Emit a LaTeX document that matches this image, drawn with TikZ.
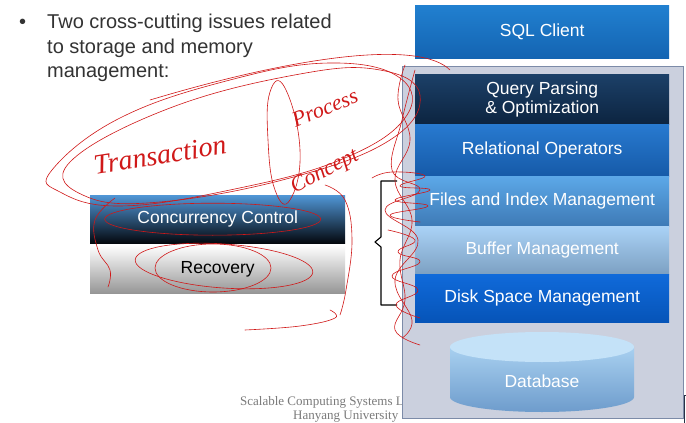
\documentclass[tikz,border=0pt]{standalone}
\usepackage{fontspec}
\setmainfont{Liberation Sans}
\newfontfamily\footfont{Liberation Serif}
\usetikzlibrary{shapes.geometric}
\definecolor{bodytext}{HTML}{333333}
\definecolor{footgray}{HTML}{7A7A7A}
\definecolor{inkred}{HTML}{D01818}
\definecolor{stackfill}{HTML}{CBD0DE}
\definecolor{stackedge}{HTML}{7C8BA8}
\begin{document}
\begin{tikzpicture}[x=1pt,y=-1pt,
  layer/.style={draw=none, minimum width=254pt, inner sep=0pt, text=white,
    font=\fontsize{17.5}{21}\selectfont, align=center, anchor=north west},
  sidebox/.style={draw=none, minimum width=255pt, minimum height=48pt, inner sep=0pt,
    font=\fontsize{17.5}{21}\selectfont, anchor=north west},
  ink/.style={draw=inkred, line width=0.6pt, line cap=round, line join=round},
  hand/.style={text=inkred, inner sep=0pt, font=\footfont\itshape\fontsize{22}{22}\selectfont},
  bul/.style={anchor=base west, text=bodytext, font=\fontsize{20}{24}\selectfont, inner sep=0pt}
]
\useasboundingbox (0,0) rectangle (686,423);
\fill[white] (0,0) rectangle (686,423);

% bullet text
\node[bul] (dot) at (19,28) {\textbullet};
\node[bul] (l1) at (47,28) {Two cross-cutting issues related};
\node[bul] (l2) at (47,53) {to storage and memory};
\node[bul] (l3) at (47,77) {management:};

% footer (partly hidden by the stack box)
\node[anchor=base west, inner sep=0pt, text=footgray, font=\footfont\fontsize{13}{15}\selectfont] (foot1) at (240,405) {Scalable Computing Systems Lab};
\node[anchor=base west, inner sep=0pt, text=footgray, font=\footfont\fontsize{13}{15}\selectfont] (foot2) at (293,419) {Hanyang University};

% SQL client
\node[layer, minimum height=53pt, top color={rgb,255:red,33;green,128;blue,208}, bottom color={rgb,255:red,20;green,100;blue,178}] (sql) at (415,5) {SQL Client};

% stack box
\node[draw=stackedge, line width=0.8pt, fill=stackfill, minimum width=281pt, minimum height=352pt, inner sep=0pt, anchor=north west] (stack) at (402,66) {};

\node[layer, minimum height=50pt, top color={rgb,255:red,28;green,64;blue,104}, bottom color={rgb,255:red,12;green,36;blue,64}] (qp) at (415,74) {Query Parsing\\[-2pt]\& Optimization};
\node[layer, minimum height=52pt, top color={rgb,255:red,40;green,122;blue,208}, bottom color={rgb,255:red,22;green,90;blue,168}] (rel) at (415,124) {Relational Operators};
\node[layer, minimum height=50pt, top color={rgb,255:red,92;green,168;blue,232}, bottom color={rgb,255:red,62;green,122;blue,182}] (files) at (415,176) {Files and Index Management};
\node[layer, minimum height=48pt, top color={rgb,255:red,170;green,210;blue,246}, bottom color={rgb,255:red,124;green,160;blue,194}] (buf) at (415,226) {Buffer Management};
\node[layer, minimum height=48pt, top color={rgb,255:red,16;green,106;blue,218}, bottom color={rgb,255:red,6;green,84;blue,184}] (disk) at (415,274) {Disk Space Management};

% database cylinder
\shade[top color={rgb,255:red,168;green,208;blue,240}, bottom color={rgb,255:red,110;green,156;blue,204}]
  (450,347) -- (450,397) arc[start angle=180, end angle=360, x radius=92pt, y radius=15pt] -- (634,347) -- cycle;
\fill[color={rgb,255:red,196;green,226;blue,248}] (542,347) ellipse[x radius=92pt, y radius=15pt];
\node[text=white, font=\fontsize{17.5}{21}\selectfont, inner sep=0pt] (db) at (542,381) {Database};

% left boxes
\node[sidebox, text=white, top color={rgb,255:red,80;green,150;blue,214}, bottom color={rgb,255:red,4;green,8;blue,14}] (cc) at (90,195) {Concurrency Control};
\node[sidebox, text=black, top color=white, bottom color={rgb,255:red,150;green,150;blue,150}] (rec) at (90,245) {Recovery};

% bracket
\coordinate (bt) at (397,181);
\coordinate (bb) at (397,305);
\draw[line width=1.1pt, line join=round] (bt) -- (381,181) -- (381,237) -- (375,242) -- (381,247) -- (381,305) -- (bb);

% corner fragment bottom right
\draw[line width=1pt, color={rgb,255:red,40;green,50;blue,70}] (686,395) -- (684,395) -- (684,423);

% ---------- red handwritten annotations ----------
\draw[ink] plot[smooth cycle, tension=0.7] coordinates {(52,170) (120,118) (230,80) (330,63) (400,78) (405,118) (340,160) (230,190) (120,206) (60,192)};
\draw[ink] plot[smooth cycle, tension=0.7] coordinates {(70,162) (170,108) (300,74) (380,70) (420,95) (390,140) (290,178) (160,202) (85,196)};
\draw[ink] (150,100) .. controls (300,55) and (420,40) .. (450,70);
\node[hand, rotate=9, font=\footfont\itshape\fontsize{28}{28}\selectfont] (hw1) at (160,155) {Transaction};
\node[hand, rotate=22] (hw2) at (325,108) {Process};
\node[hand, rotate=28] (hw3) at (325,172) {Concept};
\draw[ink] plot[smooth cycle, tension=0.8] coordinates {(270,92) (285,88) (300,150) (290,200) (275,190) (268,140)};

\draw[ink] (cc.center) ++(-5,0) ellipse[x radius=108pt, y radius=16pt];
\draw[ink, rotate around={-4:(224,266)}] (224,266) ellipse[x radius=89pt, y radius=22pt];
\draw[ink] (213,268) ellipse[x radius=58pt, y radius=24pt];
\draw[ink] plot[smooth, tension=0.7] coordinates {(115,198) (95,220) (98,250) (110,270) (108,287)};
\draw[ink] plot[smooth, tension=0.7] coordinates {(325,185) (345,200) (352,240) (346,290) (340,315)};
\draw[ink] plot[smooth, tension=0.7] coordinates {(245,330) (300,326) (335,318) (330,310)};

\draw[ink] plot[smooth, tension=0.7] coordinates {(405,65) (398,100) (410,140) (395,180) (412,220) (400,260) (405,300) (395,330) (420,345)};
\draw[ink] plot[smooth, tension=0.7] coordinates {(415,70) (402,120) (392,170) (420,190) (385,210) (418,240) (395,280) (412,320) (402,338)};
\draw[ink] plot[smooth, tension=0.8] coordinates {(372,178) (392,172) (425,176) (400,186) (430,190) (395,200) (428,206) (390,215) (420,222)};
\draw[ink] plot[smooth, tension=0.8] coordinates {(388,230) (415,240) (398,252) (420,262) (392,276) (418,290) (396,305) (420,318)};
\end{tikzpicture}
\end{document}
